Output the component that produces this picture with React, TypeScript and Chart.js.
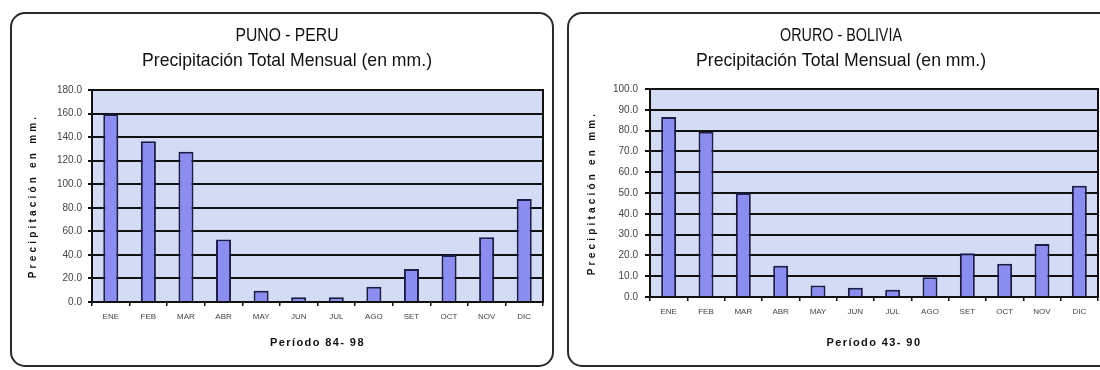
import React, { useEffect, useRef } from "react";
import { Chart, registerables } from "chart.js";

Chart.register(...registerables);

// ---------- data ----------
const MONTHS = ["ENE", "FEB", "MAR", "ABR", "MAY", "JUN", "JUL", "AGO", "SET", "OCT", "NOV", "DIC"];

const PUNO_VALUES = [159.5, 136.5, 127.5, 53.0, 9.5, 4.0, 4.0, 13.0, 28.0, 40.0, 55.0, 87.5];
const ORURO_VALUES = [86.5, 79.5, 50.0, 15.0, 5.5, 4.5, 3.5, 9.5, 21.0, 16.0, 25.5, 53.5];

const PUNO_Y_MAX = 180;
const PUNO_Y_STEP = 20;
const ORURO_Y_MAX = 100;
const ORURO_Y_STEP = 10;

const PUNO_TITLE = "PUNO - PERU";
const ORURO_TITLE = "ORURO - BOLIVIA";
const SUBTITLE = "Precipitación Total Mensual (en mm.)";
const Y_TITLE = "Precipitación en mm.";
const PUNO_X_TITLE = "Período 84- 98";
const ORURO_X_TITLE = "Período 43- 90";

// ---------- styles ----------
const FONT = "'Liberation Sans', Arial, sans-serif";
const TITLE_FONT = "'Liberation Sans Narrow', 'Liberation Sans', Arial, sans-serif";
const BAR_FILL = "#8b8ef0";
const BAR_EDGE = "#1c1c4a";
const PLOT_BG = "#d3dbf5";
const LINE = "#111111";

type PanelProps = {
  values: number[];
  yMax: number;
  yStep: number;
  title: string;
  xTitle: string;
  box: { left: number; top: number; width: number; height: number };
  yAxisWidth: number;
  xAxisHeight: number;
  padTop: number;
  padRight: number;
  yTickLen: number;
  yTickPad: number;
  titleCx: number;
  titleMaxW: number;
  yTitleCx: number;
  extendBorder: number;
};

const textPlugin = {
  id: "panelTexts",
  beforeDraw(chart: any) {
    const { ctx, chartArea } = chart;
    ctx.save();
    ctx.fillStyle = "#ffffff";
    ctx.fillRect(0, 0, chart.width, chart.height);
    ctx.fillStyle = PLOT_BG;
    ctx.fillRect(chartArea.left, chartArea.top, chartArea.right - chartArea.left, chartArea.bottom - chartArea.top);
    ctx.restore();
  },
  beforeDatasetsDraw(chart: any) {
    const { ctx, chartArea } = chart;
    ctx.save();
    ctx.strokeStyle = LINE;
    ctx.lineWidth = 2;
    ctx.strokeRect(chartArea.left, chartArea.top, chartArea.right - chartArea.left, chartArea.bottom - chartArea.top);
    ctx.restore();
  },
  afterDraw(chart: any, _args: any, opts: any) {
    const { ctx, chartArea } = chart;
    ctx.save();
    ctx.fillStyle = "#111";
    ctx.textAlign = "center";
    ctx.textBaseline = "middle";
    ctx.font = `19px ${TITLE_FONT}`;
    ctx.fillText(opts.title, opts.titleCx, 23.5, opts.titleMaxW);
    ctx.fillText(SUBTITLE, opts.titleCx, 49, 290);

    // x axis title
    ctx.font = `bold 11px ${FONT}`;
    (ctx as any).letterSpacing = "1.4px";
    ctx.fillText(opts.xTitle, (chartArea.left + chartArea.right) / 2, 331);

    // y axis title
    ctx.translate(opts.yTitleCx, (chartArea.top + chartArea.bottom) / 2);
    ctx.rotate(-Math.PI / 2);
    ctx.font = `bold 10px ${FONT}`;
    (ctx as any).letterSpacing = "3.2px";
    ctx.fillText(Y_TITLE, 0, 0);
    ctx.restore();
  },
};

function Panel(p: PanelProps) {
  const ref = useRef<HTMLCanvasElement | null>(null);
  useEffect(() => {
    if (!ref.current) return;
    const chart = new Chart(ref.current, {
      type: "bar",
      data: {
        labels: MONTHS,
        datasets: [
          {
            data: p.values,
            backgroundColor: BAR_FILL,
            borderColor: BAR_EDGE,
            borderWidth: 2,
            barPercentage: 0.4,
            categoryPercentage: 1.0,
          },
        ],
      },
      plugins: [textPlugin],
      options: {
        animation: false,
        responsive: false,
        maintainAspectRatio: false,
        layout: { padding: { top: p.padTop, right: p.padRight, left: 0, bottom: 0 } },
        plugins: {
          legend: { display: false },
          title: { display: false },
          tooltip: { enabled: false },
          panelTexts: {
            title: p.title,
            xTitle: p.xTitle,
            titleCx: p.titleCx,
            titleMaxW: p.titleMaxW,
            yTitleCx: p.yTitleCx,
          },
        } as any,
        scales: {
          x: {
            offset: true,
            grid: {
              offset: true,
              drawOnChartArea: false,
              drawTicks: true,
              tickLength: 4,
              color: LINE,
              lineWidth: 1.5,
            },
            border: { color: LINE, width: 2 },
            ticks: {
              autoSkip: false,
              maxRotation: 0,
              padding: 6,
              color: "#444",
              font: { family: FONT, size: 8 },
            },
            afterFit: (scale: any) => {
              scale.height = p.xAxisHeight;
            },
          },
          y: {
            min: 0,
            max: p.yMax,
            grid: {
              color: LINE,
              lineWidth: 2,
              drawTicks: true,
              tickLength: p.yTickLen,
            },
            border: { color: LINE, width: 2 },
            ticks: {
              stepSize: p.yStep,
              padding: p.yTickPad,
              color: "#444",
              font: { family: FONT, size: 10 },
              callback: (v: any) => Number(v).toFixed(1),
            },
            afterFit: (scale: any) => {
              scale.width = p.yAxisWidth;
            },
          },
        },
      } as any,
    });
    return () => chart.destroy();
  }, []);

  const b = p.box;
  return (
    <>
      <canvas
        ref={ref}
        width={b.width}
        height={b.height}
        style={{ position: "absolute", left: b.left, top: b.top, width: b.width, height: b.height }}
      />
      <div
        style={{
          position: "absolute",
          left: b.left,
          top: b.top,
          width: b.width + p.extendBorder,
          height: b.height,
          boxSizing: "border-box",
          border: "2px solid #2a2a2a",
          borderRadius: 15,
          pointerEvents: "none",
        }}
      />
    </>
  );
}

export default function App() {
  return (
    <div
      style={{
        position: "absolute",
        left: 0,
        top: 0,
        width: 1100,
        height: 370,
        overflow: "hidden",
        background: "#ffffff",
      }}
    >
      <Panel
        values={PUNO_VALUES}
        yMax={PUNO_Y_MAX}
        yStep={PUNO_Y_STEP}
        title={PUNO_TITLE}
        xTitle={PUNO_X_TITLE}
        box={{ left: 10, top: 12, width: 544, height: 355 }}
        yAxisWidth={82}
        xAxisHeight={65}
        padTop={78}
        padRight={11}
        yTickLen={4}
        yTickPad={6}
        titleCx={277}
        titleMaxW={103}
        yTitleCx={23}
        extendBorder={0}
      />
      <Panel
        values={ORURO_VALUES}
        yMax={ORURO_Y_MAX}
        yStep={ORURO_Y_STEP}
        title={ORURO_TITLE}
        xTitle={ORURO_X_TITLE}
        box={{ left: 567, top: 12, width: 533, height: 355 }}
        yAxisWidth={83}
        xAxisHeight={70}
        padTop={77}
        padRight={2}
        yTickLen={5}
        yTickPad={7}
        titleCx={274}
        titleMaxW={122}
        yTitleCx={25}
        extendBorder={20}
      />
    </div>
  );
}
